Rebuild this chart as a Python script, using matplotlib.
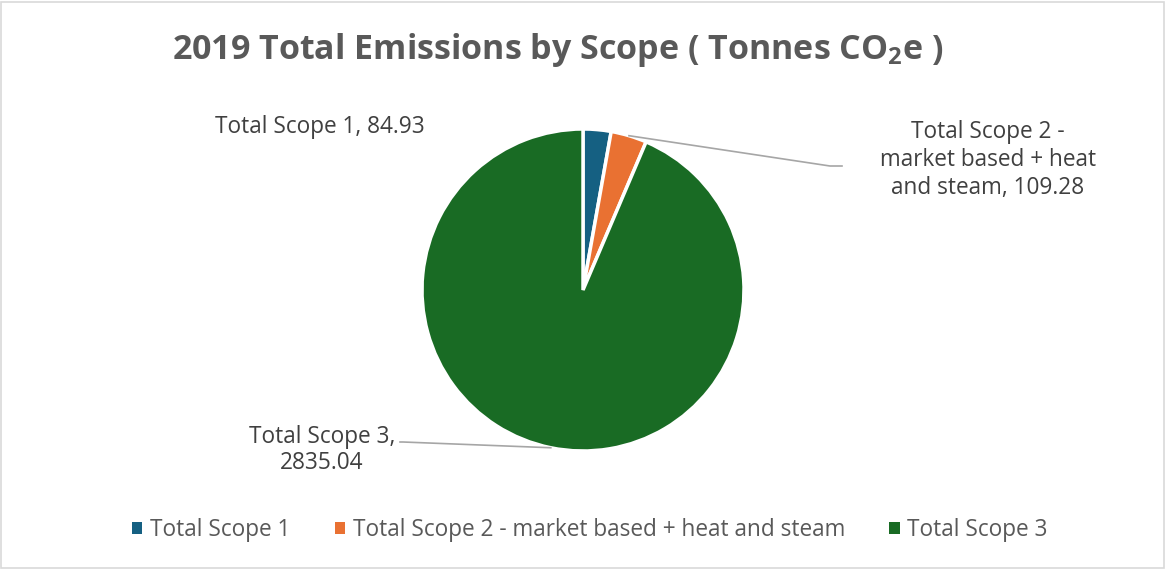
import matplotlib
matplotlib.use("Agg")
import matplotlib.pyplot as plt
import numpy as np
from matplotlib.patches import Patch, Rectangle
from matplotlib.lines import Line2D

categories = ["Total Scope 1", "Total Scope 2 - market based + heat and steam", "Total Scope 3"]
values = [84.93, 109.28, 2835.04]
label_texts = ["Total Scope 1, 84.93", "Total Scope 2 -\nmarket based + heat\nand steam, 109.28", "Total Scope 3,\n2835.04"]
colors = ["#156082", "#E97132", "#196B24"]

plt.rcParams['font.family'] = ['Open Sans', 'DejaVu Sans']
plt.rcParams['mathtext.fontset'] = 'custom'
plt.rcParams['mathtext.rm'] = 'Open Sans'
plt.rcParams['mathtext.bf'] = 'Open Sans:bold'

W, H = 1167, 569
fig = plt.figure(figsize=(W/100, H/100), dpi=100)

cx, cy, r = 583, 290, 161
ax = fig.add_axes([(cx - r)/W, (H - cy - r)/H, 2*r/W, 2*r/H])
wedges, _ = ax.pie(values, colors=colors, startangle=90, counterclock=False,
                   wedgeprops=dict(edgecolor="white", linewidth=2.5))
ax.set_xlim(-1, 1); ax.set_ylim(-1, 1)
ax.set_aspect('equal')
ax.axis('off')

# border
fig.patches.append(Rectangle((1/W, 1/H), (W-4)/W, (H-3)/H, transform=fig.transFigure,
                             fill=False, edgecolor="#d9d9d9", linewidth=1.2))

fig.text(558/W, 1 - 50/H, "2019 Total Emissions by Scope ( Tonnes CO$_{\\mathbf{2}}$e )",
         ha='center', va='center', fontsize=24.5, fontweight='bold', color='#595959')

lab_color = '#404040'
fs = 16.3
fig.text(320/W, 1 - 127/H, label_texts[0], ha='center', va='center', fontsize=fs, color=lab_color)
fig.text(988/W, 1 - 160/H, label_texts[1], ha='center', va='center', fontsize=fs,
         color=lab_color, linespacing=1.2)
fig.text(322/W, 1 - 450/H, label_texts[2], ha='center', va='center', fontsize=fs,
         color=lab_color, linespacing=1.15)

# leader lines from wedge midpoints
total = sum(values)
cum = np.cumsum([0] + values)
def mid_px(i):
    ang = np.deg2rad(90 - 360 * (cum[i] + values[i]/2) / total)
    return cx + r*np.cos(ang), cy - r*np.sin(ang)

leaders = {1: [(830, 166), (842, 166)], 2: [(403, 442), (400, 442)]}
for i, pts in leaders.items():
    x0, y0 = mid_px(i)
    xs = [x0] + [p[0] for p in pts]
    ys = [y0] + [p[1] for p in pts]
    fig.add_artist(Line2D(np.array(xs)/W, 1 - np.array(ys)/H, transform=fig.transFigure,
                          color='#a6a6a6', linewidth=1.2))

handles = [Patch(facecolor=c, edgecolor='none') for c in colors]
fig.legend(handles, categories, loc='center', bbox_to_anchor=(590/W, 1 - 530/H), ncol=3,
           frameon=False, fontsize=fs, handlelength=0.45, handleheight=0.45,
           handletextpad=0.35, columnspacing=1.95, labelcolor='#595959')

fig.savefig("out.png", dpi=100)
